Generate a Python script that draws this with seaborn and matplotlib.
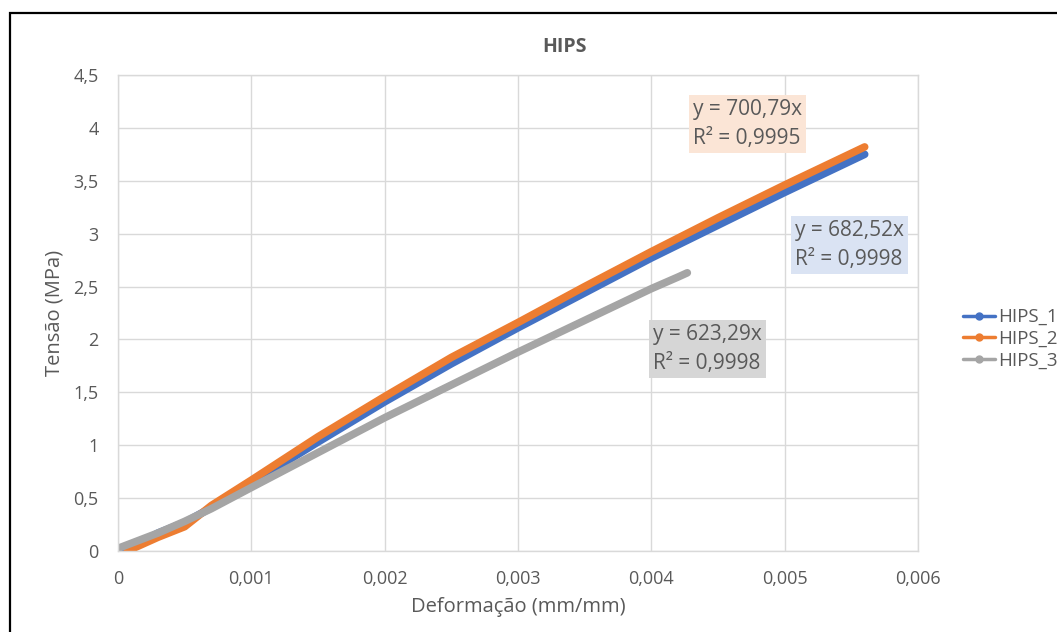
import seaborn as sns
import pandas as pd
import matplotlib.pyplot as plt
from matplotlib.lines import Line2D
from matplotlib.patches import Rectangle
from matplotlib.ticker import FuncFormatter, MultipleLocator

# values
strain_1 = [0.00005, 0.0003, 0.0005, 0.0007, 0.001, 0.0015, 0.002, 0.0025,
            0.003, 0.0035, 0.004, 0.0045, 0.005, 0.0056]
stress_1 = [0.0, 0.17, 0.27, 0.41, 0.64, 1.03, 1.41, 1.77,
            2.11, 2.44, 2.77, 3.08, 3.39, 3.75]

strain_2 = [0.00007, 0.0003, 0.0005, 0.0007, 0.001, 0.0015, 0.002, 0.0025,
            0.003, 0.0035, 0.004, 0.0045, 0.005, 0.0056]
stress_2 = [0.0, 0.13, 0.23, 0.43, 0.67, 1.08, 1.46, 1.83,
            2.16, 2.50, 2.83, 3.15, 3.46, 3.82]

strain_3 = [0.00001, 0.0003, 0.0005, 0.0007, 0.001, 0.0015, 0.002, 0.0025,
            0.003, 0.0035, 0.004, 0.0042, 0.00427]
stress_3 = [0.03, 0.17, 0.28, 0.40, 0.60, 0.93, 1.26, 1.57,
            1.88, 2.18, 2.48, 2.59, 2.63]

series = ["HIPS_1", "HIPS_2", "HIPS_3"]
colors = ["#4472C4", "#ED7D31", "#A5A5A5"]
eq_texts = ["y = 682,52x\nR² = 0,9998", "y = 700,79x\nR² = 0,9995", "y = 623,29x\nR² = 0,9998"]
eq_bg = ["#DAE3F3", "#FBE5D6", "#D6D6D6"]

df = pd.concat([
    pd.DataFrame({"strain": strain_1, "stress": stress_1, "serie": series[0]}),
    pd.DataFrame({"strain": strain_2, "stress": stress_2, "serie": series[1]}),
    pd.DataFrame({"strain": strain_3, "stress": stress_3, "serie": series[2]}),
])

sns.set_style("white")
plt.rcParams["font.family"] = ["Open Sans", "DejaVu Sans"]
txt = "#595959"
grid = "#D9D9D9"

fig = plt.figure(figsize=(10.57, 6.32), dpi=100)
ax = fig.add_axes([118 / 1057, 81 / 632, 800 / 1057, 476 / 632])

sns.lineplot(data=df, x="strain", y="stress", hue="serie", palette=colors,
             sort=False, estimator=None, linewidth=5.5, legend=False, ax=ax)
for l in ax.lines:
    l.set_solid_capstyle("round")

ax.set_xlim(0, 0.006)
ax.set_ylim(0, 4.5)
ax.xaxis.set_major_locator(MultipleLocator(0.001))
ax.yaxis.set_major_locator(MultipleLocator(0.5))
comma = FuncFormatter(lambda v, p: f"{v:g}".replace(".", ","))
ax.xaxis.set_major_formatter(comma)
ax.yaxis.set_major_formatter(comma)
ax.grid(True, color=grid, linewidth=1)
ax.set_axisbelow(True)
for s in ax.spines.values():
    s.set_color(grid)
    s.set_linewidth(1)
ax.tick_params(axis="both", length=0, labelsize=13, labelcolor=txt)
ax.tick_params(axis="x", pad=14)
ax.tick_params(axis="y", pad=14)

ax.set_xlabel("Deformação (mm/mm)", fontsize=14.5, color=txt, labelpad=6)
ax.set_ylabel("Tensão (MPa)", fontsize=14.5, color=txt, labelpad=6)
fig.text(565 / 1057, 1 - 47 / 632, "HIPS", ha="center", va="center",
         fontsize=14, fontweight="bold", color=txt)

# trendline labels
pos = [(795, 245), (693, 124), (653, 349)]
for (px, py), t, bg in zip(pos, eq_texts, eq_bg):
    fig.text(px / 1057, 1 - py / 632, t, ha="left", va="center", fontsize=15,
             color=txt, linespacing=1.45,
             bbox=dict(boxstyle="square,pad=0.2", fc=bg, ec="none"))

handles = [Line2D([], [], color=c, lw=2.5, marker="o", markersize=5) for c in colors]
fig.legend(handles, series, loc="center left", bbox_to_anchor=(963 / 1057, 1 - 339 / 632),
           frameon=False, fontsize=13.5, labelcolor=txt, handlelength=1.7,
           handletextpad=0.15, labelspacing=0.2, borderpad=0, borderaxespad=0)

fig.patches.append(Rectangle((10 / 1057, -0.1), 1.2, 1 - 13 / 632 + 0.1,
                             transform=fig.transFigure, fill=False,
                             ec="black", lw=1.6))

fig.savefig("out.png", dpi=100)
